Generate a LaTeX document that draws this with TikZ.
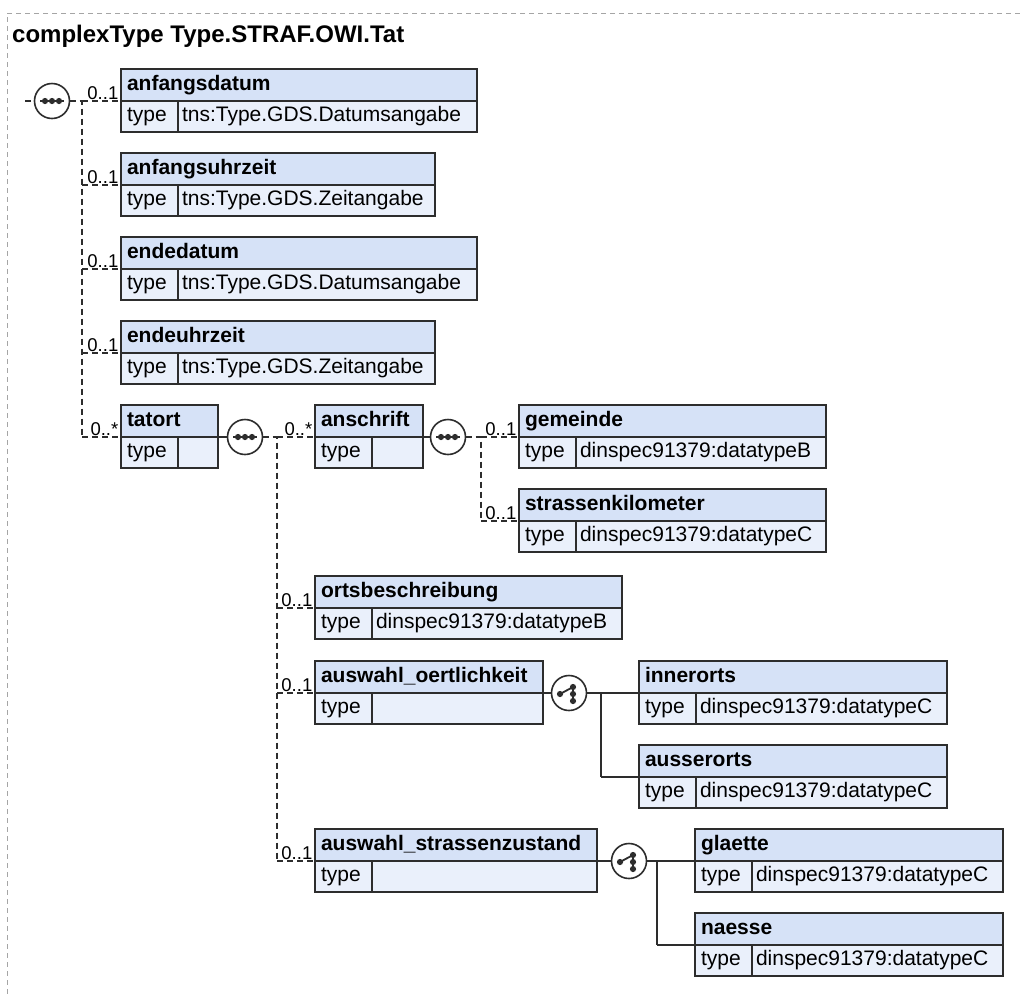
\documentclass[tikz,border=0pt]{standalone}
\usepackage{fontspec}
\setmainfont{Liberation Sans}
\usepackage{xcolor}
\usepackage{tikz}
\usetikzlibrary{positioning}

\definecolor{hdrfill}{RGB}{214,226,247}
\definecolor{rowfill}{RGB}{234,240,251}
\definecolor{boxline}{RGB}{45,45,45}
\definecolor{frameline}{RGB}{165,165,165}

% element box: name, x, y (top left, px), width, label, type
\newcommand{\xsdelem}[6]{%
  \pgfmathsetmacro{\hdrtw}{#4-12}%
  \pgfmathsetmacro{\valtw}{#4-57-8}%
  \node[hdr, text width=\hdrtw pt] (#1) at (#2,#3) {#5};
  \node[typekey] (#1-k) at (#1.south west) {type};
  \node[typeval, text width=\valtw pt] (#1-v) at (#1-k.north east) {#6};
}

\begin{document}
\begin{tikzpicture}[x=1pt, y=-1pt,
  hdr/.style={draw=boxline, fill=hdrfill, line width=1.4pt, anchor=north west,
    minimum height=32, inner xsep=6pt, inner ysep=0pt, outer sep=0pt, align=left,
    text height=15pt, text depth=4.5pt, font=\fontsize{21}{24}\selectfont\bfseries},
  typekey/.style={draw=boxline, fill=rowfill, line width=1.4pt, anchor=north west,
    minimum height=31, text width=45pt, inner xsep=6pt, inner ysep=0pt, outer sep=0pt,
    align=left, text height=15pt, text depth=4.5pt, font=\fontsize{21}{24}\selectfont},
  typeval/.style={typekey, inner xsep=4pt},
  mult/.style={anchor=south east, inner sep=1.5pt, xshift=-1pt, font=\fontsize{18.5}{20}\selectfont},
  opt/.style={draw=boxline, line width=1.5pt, dash pattern=on 6pt off 4pt},
  req/.style={draw=boxline, line width=1.5pt},
  cmpbox/.style={circle, draw=boxline, fill=white, line width=1.6pt, minimum size=35pt,
    inner sep=0pt, outer sep=0pt},
  seqicon/.style={cmpbox, path picture={
    \draw[boxline, line width=1.8pt, shift={(path picture bounding box.center)}] (-12,0) -- (12,0);
    \foreach \dx in {-7,0,7}
      \fill[boxline, shift={(path picture bounding box.center)}] (\dx,0) circle (3.1pt);
  }},
  choiceicon/.style={cmpbox, path picture={
    \draw[boxline, line width=1.8pt, shift={(path picture bounding box.center)}] (-9,1) -- (4,-6) -- (4,8);
    \foreach \px/\py in {-9/1,4/-6,4/1,4/8}
      \fill[boxline, shift={(path picture bounding box.center)}] (\px,\py) circle (3.1pt);
  }}]
\useasboundingbox (0,0) rectangle (1020,997);

% outer frame and title
\coordinate (fr-ne) at (1020,13);
\coordinate (fr-nw) at (7,13);
\coordinate (fr-sw) at (7,997);
\draw[frameline, line width=1pt, dash pattern=on 5pt off 4pt] (fr-ne) -- (fr-nw) -- (fr-sw);
\node[anchor=base west, inner sep=0pt, font=\fontsize{24}{28}\selectfont\bfseries] (title) at (12,42) {complexType Type.STRAF.OWI.Tat};

% elements
\xsdelem{anf}{121}{69}{356}{anfangsdatum}{tns:Type.GDS.Datumsangabe}
\xsdelem{anfuhr}{121}{153}{314}{anfangsuhrzeit}{tns:Type.GDS.Zeitangabe}
\xsdelem{ende}{121}{237}{356}{endedatum}{tns:Type.GDS.Datumsangabe}
\xsdelem{endeuhr}{121}{321}{314}{endeuhrzeit}{tns:Type.GDS.Zeitangabe}
\xsdelem{tatort}{121}{405}{97}{tatort}{}
\xsdelem{anschrift}{315}{405}{108}{anschrift}{}
\xsdelem{gemeinde}{519}{405}{307}{gemeinde}{dinspec91379:datatypeB}
\xsdelem{strkm}{519}{489}{307}{strassenkilometer}{dinspec91379:datatypeC}
\xsdelem{ortsb}{315}{576}{307}{ortsbeschreibung}{dinspec91379:datatypeB}
\xsdelem{auswoe}{315}{661}{228}{auswahl\_oertlichkeit}{}
\xsdelem{innerorts}{639}{661}{308}{innerorts}{dinspec91379:datatypeC}
\xsdelem{ausserorts}{639}{745}{308}{ausserorts}{dinspec91379:datatypeC}
\xsdelem{auswstr}{315}{829}{282}{auswahl\_strassenzustand}{}
\xsdelem{glaette}{695}{829}{308}{glaette}{dinspec91379:datatypeC}
\xsdelem{naesse}{695}{913}{308}{naesse}{dinspec91379:datatypeC}

% compositors
\node[seqicon] (seq1) at (52,101) {};
\node[seqicon] (seq2) at (245,437) {};
\node[seqicon] (seq3) at (448,437) {};
\node[choiceicon] (cho1) at (569,693) {};
\node[choiceicon] (cho2) at (629,861) {};

\coordinate (root) at (25,101);
\coordinate (bus1) at (82,101);
\coordinate (bus2) at (277,437);
\coordinate (bus3) at (481,437);
\coordinate (bus4) at (601,693);
\coordinate (bus5) at (657,861);

% connectors
\draw[opt] (root) -- (seq1);
\draw[opt] (seq1) -- (bus1) -- (bus1 |- tatort.south west);
\foreach \n in {anf,anfuhr,ende,endeuhr,tatort}
  \draw[opt] (bus1 |- \n.south west) -- (\n.south west);

\draw[req] (tatort.south east) -- (seq2);
\draw[opt] (seq2) -- (bus2) -- (bus2 |- auswstr.south west);
\foreach \n in {anschrift,ortsb,auswoe,auswstr}
  \draw[opt] (bus2 |- \n.south west) -- (\n.south west);

\draw[req] (anschrift.south east) -- (seq3);
\draw[opt] (seq3) -- (bus3) -- (bus3 |- strkm.south west);
\foreach \n in {gemeinde,strkm}
  \draw[opt] (bus3 |- \n.south west) -- (\n.south west);

\draw[req] (auswoe.south east) -- (cho1);
\draw[req] (cho1) -- (bus4) -- (bus4 |- ausserorts.south west);
\foreach \n in {innerorts,ausserorts}
  \draw[req] (bus4 |- \n.south west) -- (\n.south west);

\draw[req] (auswstr.south east) -- (cho2);
\draw[req] (cho2) -- (bus5) -- (bus5 |- naesse.south west);
\foreach \n in {glaette,naesse}
  \draw[req] (bus5 |- \n.south west) -- (\n.south west);

% occurrences
\foreach \n/\m in {anf/0..1,anfuhr/0..1,ende/0..1,endeuhr/0..1,tatort/0..*,
    anschrift/0..*,gemeinde/0..1,strkm/0..1,ortsb/0..1,auswoe/0..1,auswstr/0..1}
  \node[mult] (\n-m) at (\n.south west) {\m};
\end{tikzpicture}
\end{document}
